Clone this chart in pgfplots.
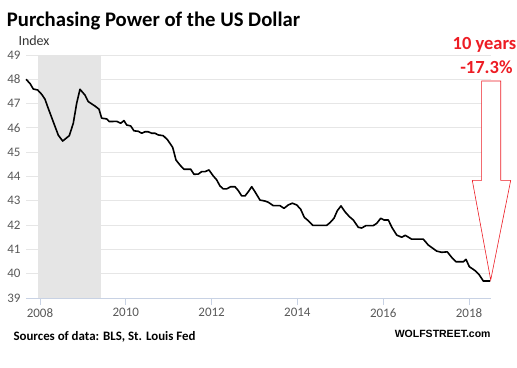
\documentclass[border=0pt]{standalone}
\usepackage{pgfplots}
\pgfplotsset{compat=1.18}
\usepackage{fontspec}
\setmainfont{Carlito}
\newfontfamily\wolffont{Liberation Sans}
\definecolor{gridgray}{RGB}{230,230,230}
\definecolor{axisblue}{RGB}{200,210,228}
\definecolor{tickgray}{RGB}{89,89,89}
\definecolor{shade}{RGB}{229,229,229}
\definecolor{wred}{RGB}{237,28,36}
\begin{document}
\begin{tikzpicture}[x=1pt,y=1pt]
\path[use as bounding box] (0,0) rectangle (517,367);
\begin{axis}[
  at={(26pt,69pt)}, anchor=south west, scale only axis,
  width=465pt, height=243pt,
  xmin=2007.674, xmax=2018.513, ymin=39, ymax=49,
  axis x line*=bottom, axis y line*=left,
  x axis line style={draw=axisblue, line width=0.8pt, -},
  y axis line style={draw=none},
  ytick={39,40,...,49}, xtick={2008,2010,...,2018},
  ymajorgrids, grid style={draw=gridgray, line width=0.8pt},
  ytick style={draw=none},
  xtick style={draw=axisblue, line width=0.8pt},
  tick align=outside, major tick length=7pt,
  x tick label style={/pgf/number format/1000 sep={}},
  y tick label style={xshift=5pt},
  ticklabel style={font=\fontsize{13}{15}\selectfont, text=tickgray},
  /pgf/number format/assume math mode=true,
  clip=false,
]
\addplot[fill=shade, draw=none] coordinates {(2007.95,39) (2007.95,49) (2009.42,49) (2009.42,39)} -- cycle;
\draw[wred, line width=0.6pt, fill=white]
  (axis cs:2018.296,47.93) -- (axis cs:2018.739,47.93) -- (axis cs:2018.739,43.84)
  -- (axis cs:2018.972,43.84) -- (axis cs:2018.506,39.74) -- (axis cs:2018.077,43.84)
  -- (axis cs:2018.296,43.84) -- cycle;
\addplot[black, line width=1.6pt, line join=round] table {
2007.674 48.00
2007.767 47.83
2007.844 47.60
2007.946 47.56
2008.040 47.38
2008.117 47.18
2008.179 46.87
2008.310 46.25
2008.427 45.70
2008.529 45.46
2008.683 45.68
2008.776 46.19
2008.855 47.01
2008.932 47.59
2009.049 47.35
2009.126 47.08
2009.282 46.90
2009.375 46.77
2009.438 46.40
2009.555 46.37
2009.615 46.26
2009.788 46.27
2009.881 46.19
2009.958 46.30
2010.021 46.12
2010.114 46.08
2010.191 45.88
2010.291 45.86
2010.371 45.78
2010.448 45.84
2010.524 45.84
2010.604 45.78
2010.681 45.78
2010.758 45.71
2010.874 45.68
2010.977 45.50
2011.093 45.20
2011.170 44.68
2011.263 44.47
2011.357 44.30
2011.513 44.30
2011.590 44.09
2011.690 44.10
2011.769 44.20
2011.846 44.20
2011.939 44.27
2012.040 44.02
2012.119 43.86
2012.196 43.61
2012.273 43.49
2012.352 43.49
2012.445 43.58
2012.545 43.58
2012.622 43.42
2012.702 43.20
2012.779 43.20
2012.855 43.37
2012.935 43.58
2013.012 43.37
2013.128 43.03
2013.245 42.99
2013.322 42.94
2013.438 42.80
2013.594 42.80
2013.688 42.69
2013.788 42.83
2013.881 42.90
2013.984 42.83
2014.077 42.65
2014.161 42.32
2014.254 42.18
2014.357 41.99
2014.487 41.99
2014.683 41.99
2014.760 42.10
2014.853 42.28
2014.930 42.59
2015.016 42.79
2015.109 42.55
2015.210 42.35
2015.303 42.21
2015.420 41.91
2015.499 41.88
2015.599 41.98
2015.769 41.98
2015.849 42.07
2015.942 42.28
2016.019 42.21
2016.119 42.21
2016.205 41.90
2016.315 41.59
2016.431 41.50
2016.515 41.58
2016.664 41.42
2016.935 41.42
2017.051 41.18
2017.247 40.93
2017.364 40.88
2017.494 40.90
2017.597 40.67
2017.697 40.49
2017.867 40.49
2017.930 40.59
2018.007 40.29
2018.147 40.12
2018.240 39.95
2018.333 39.70
2018.490 39.70
};
\end{axis}
\node[anchor=base west, inner sep=0, font=\fontsize{20.7}{23}\selectfont\bfseries] at (6.7,340.3) {Purchasing Power of the US Dollar};
\node[anchor=base west, inner sep=0, text=black!80, font=\fontsize{14}{16}\selectfont] at (18.3,321.3) {Index};
\node[anchor=base west, inner sep=0, font=\fontsize{12.9}{14}\selectfont\bfseries] at (13.3,27) {Sources of data: BLS, St. Louis Fed};
\node[anchor=base east, inner sep=0, font=\wolffont\fontsize{10.5}{12}\selectfont\bfseries] at (490.7,29.3) {WOLFSTREET.com};
\node[anchor=base east, inner sep=0, text=wred, font=\fontsize{18.5}{20}\selectfont\bfseries] at (516.5,317.5) {10 years};
\node[anchor=base east, inner sep=0, text=wred, font=\fontsize{18.5}{20}\selectfont\bfseries] at (512.7,293.7) {-17.3\%};
\end{tikzpicture}
\end{document}
